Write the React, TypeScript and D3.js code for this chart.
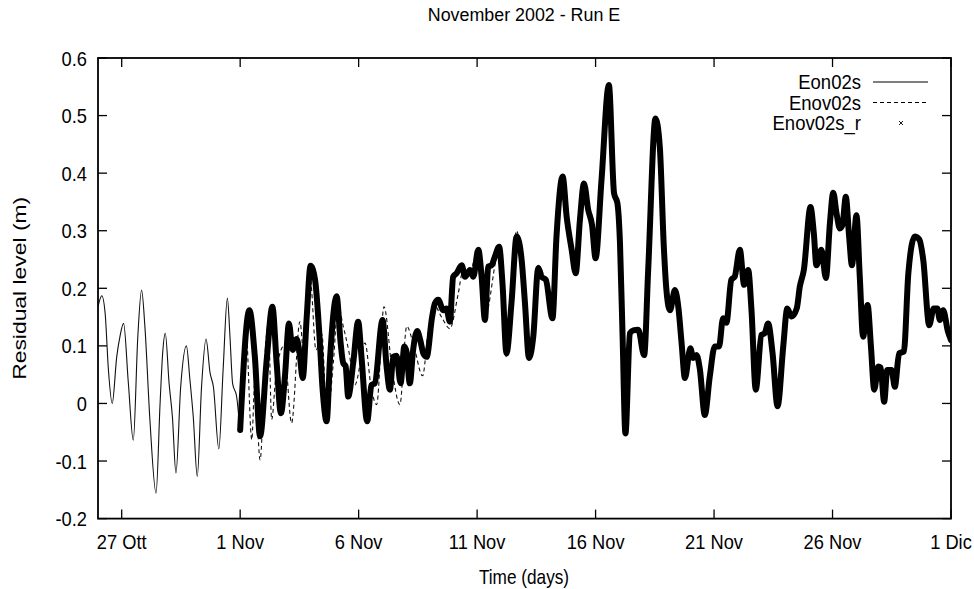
import React, { useEffect } from 'react';
import * as d3 from 'd3';

// time is in days from 26 Oct 2002 00:00, values are metres
const eon02s: [number, number][] = [
  [0.0, 0.168], [0.16, 0.187], [0.3, 0.157], [0.44, 0.058], [0.6, 0.0], [0.79, 0.081], [0.93, 0.117],
  [1.08, 0.139], [1.28, 0.036], [1.49, -0.064], [1.68, 0.116], [1.84, 0.197], [1.98, 0.133], [2.19, -0.028],
  [2.45, -0.156], [2.62, 0.0], [2.73, 0.088], [2.84, 0.122], [3.0, 0.035], [3.14, -0.023], [3.29, -0.121],
  [3.49, 0.029], [3.73, 0.1], [3.88, 0.041], [4.02, -0.023], [4.19, -0.127], [4.37, 0.029], [4.56, 0.112],
  [4.73, 0.053], [4.87, 0.029], [5.1, -0.079], [5.28, 0.058], [5.46, 0.183], [5.57, 0.116], [5.68, 0.035],
  [5.85, 0.012], [5.99, -0.046],
];

const enov02s: [number, number][] = [
  [5.99, 0.0], [6.24, 0.13], [6.49, -0.063], [6.62, 0.04], [6.84, -0.098], [7.09, 0.11], [7.19, 0.14],
  [7.33, -0.028], [7.51, 0.05], [7.85, 0.1], [8.17, -0.034], [8.52, 0.142], [8.73, 0.06], [8.95, 0.22],
  [9.2, 0.093], [9.45, 0.12], [9.66, -0.03], [9.93, 0.07], [10.13, 0.17], [10.35, 0.134], [10.59, 0.09],
  [10.84, 0.032], [11.27, 0.105], [11.52, 0.03], [11.76, -0.002], [12.07, 0.168], [12.41, 0.06],
  [12.74, -0.002], [13.03, 0.134], [13.33, 0.1], [13.7, 0.048], [13.94, 0.128], [14.2, 0.17], [14.5, 0.15],
  [14.85, 0.13], [15.2, 0.19], [15.4, 0.23], [15.7, 0.23], [16.05, 0.27], [16.33, 0.15], [16.93, 0.265],
  [17.24, 0.08], [17.67, 0.3], [18.19, 0.075], [18.58, 0.24], [18.9, 0.21],
];

const enov02sR: [number, number][] = [
  [6.0, -0.046], [6.39, 0.162], [6.62, 0.081], [6.84, -0.057], [7.12, 0.076], [7.36, 0.168], [7.54, 0.07],
  [7.72, -0.017], [7.89, 0.047], [8.06, 0.139], [8.21, 0.093], [8.38, 0.112], [8.5, 0.09], [8.64, 0.044],
  [8.81, 0.151], [8.97, 0.239], [9.16, 0.215], [9.34, 0.122], [9.48, 0.024], [9.65, -0.031], [9.79, 0.076],
  [10.07, 0.186], [10.24, 0.105], [10.35, 0.07], [10.45, 0.065], [10.56, 0.012], [10.77, 0.07], [10.98, 0.142],
  [11.12, 0.081], [11.36, -0.031], [11.54, 0.032], [11.68, 0.035], [12.01, 0.145], [12.18, 0.064],
  [12.32, 0.024], [12.46, 0.081], [12.6, 0.083], [12.77, 0.035], [12.93, 0.099], [13.02, 0.09], [13.16, 0.035],
  [13.3, 0.093], [13.47, 0.126], [13.6, 0.11], [13.73, 0.087], [13.87, 0.081], [14.1, 0.15], [14.22, 0.174],
  [14.36, 0.18], [14.57, 0.162], [14.7, 0.165], [14.85, 0.142], [14.99, 0.22], [15.13, 0.226], [15.35, 0.24],
  [15.49, 0.22], [15.7, 0.232], [15.84, 0.22], [16.05, 0.267], [16.19, 0.22], [16.33, 0.145], [16.47, 0.238],
  [16.61, 0.24], [16.75, 0.255], [16.93, 0.272], [17.07, 0.209], [17.24, 0.087], [17.45, 0.174], [17.67, 0.29],
  [17.88, 0.249], [18.02, 0.174], [18.19, 0.079], [18.37, 0.116], [18.58, 0.235], [18.72, 0.22], [18.9, 0.215],
  [19.18, 0.148], [19.35, 0.29], [19.61, 0.394], [19.78, 0.324], [19.99, 0.267], [20.16, 0.226], [20.34, 0.319],
  [20.51, 0.382], [20.69, 0.336], [20.85, 0.31], [21.0, 0.252], [21.25, 0.388], [21.56, 0.553], [21.78, 0.365],
  [21.92, 0.348], [22.03, 0.278], [22.14, 0.116], [22.26, -0.052], [22.45, 0.122], [22.59, 0.127], [22.8, 0.128],
  [23.05, 0.084], [23.22, 0.232], [23.53, 0.495], [23.71, 0.446], [23.88, 0.272], [23.99, 0.197], [24.14, 0.162],
  [24.35, 0.197], [24.49, 0.168], [24.63, 0.105], [24.77, 0.044], [25.0, 0.096], [25.12, 0.079], [25.26, 0.084],
  [25.4, 0.06], [25.61, -0.02], [25.82, 0.047], [26.03, 0.099], [26.21, 0.099], [26.38, 0.148], [26.52, 0.14],
  [26.73, 0.215], [26.87, 0.22], [27.09, 0.267], [27.27, 0.206], [27.44, 0.232], [27.58, 0.162], [27.76, 0.024],
  [28.0, 0.119], [28.14, 0.122], [28.28, 0.139], [28.47, 0.087], [28.68, -0.005], [28.92, 0.099], [29.09, 0.165],
  [29.27, 0.151], [29.49, 0.165], [29.62, 0.203], [29.79, 0.232], [30.07, 0.341], [30.21, 0.296], [30.32, 0.24],
  [30.53, 0.267], [30.72, 0.218], [30.89, 0.313], [31.03, 0.366], [31.17, 0.33], [31.31, 0.304], [31.42, 0.31],
  [31.56, 0.359], [31.7, 0.29], [31.82, 0.24], [32.01, 0.327], [32.15, 0.22], [32.29, 0.116], [32.48, 0.171],
  [32.62, 0.1], [32.76, 0.024], [32.93, 0.064], [33.03, 0.062], [33.18, 0.003], [33.31, 0.058], [33.49, 0.058],
  [33.63, 0.029], [33.81, 0.087], [34.01, 0.09], [34.2, 0.226], [34.47, 0.29], [34.66, 0.285], [34.83, 0.249],
  [35.08, 0.136], [35.27, 0.165], [35.42, 0.165], [35.53, 0.145], [35.67, 0.162], [35.87, 0.125], [36.0, 0.11],
];

const xTicks = [1, 6, 11, 16, 21, 26, 31, 36];
const xTickLabels = ['27 Ott', '1 Nov', '6 Nov', '11 Nov', '16 Nov', '21 Nov', '26 Nov', '1 Dic'];
const yTicks = [-0.2, -0.1, 0, 0.1, 0.2, 0.3, 0.4, 0.5, 0.6];
const yTickLabels = ['-0.2', '-0.1', '0', '0.1', '0.2', '0.3', '0.4', '0.5', '0.6'];
const legendNames = ['Eon02s', 'Enov02s', 'Enov02s_r'];

const FONT = '"Liberation Sans", Arial, Helvetica, sans-serif';

function T({ x, y, anchor = 'middle', sx = 0.87, size = 21, children }: any) {
  return (
    <text transform={`translate(${x},${y}) scale(${sx},1)`} textAnchor={anchor} fontSize={size}
      fontFamily={FONT} fill="#000">{children}</text>
  );
}

export default function App() {
  useEffect(() => { document.body.style.margin = '0'; }, []);
  const left = 98, right = 951, top = 58, bottom = 518.6;
  const x = d3.scaleLinear().domain([0, 36]).range([left, right]);
  const y = d3.scaleLinear().domain([-0.2, 0.6]).range([bottom, top]);
  const line = d3.line<[number, number]>().x(d => x(d[0])).y(d => y(d[1])).curve(d3.curveMonotoneX);
  const tl = 9;

  return (
    <svg width={974} height={589} style={{ display: 'block', background: '#fff' }}>
      <defs>
        <clipPath id="plot"><rect x={left} y={top} width={right - left} height={bottom - top} /></clipPath>
      </defs>
      <T x={524} y={21} sx={0.94} size={19}>November 2002 - Run E</T>

      {yTicks.map((t, i) => (
        <g key={'y' + i}>
          <line x1={left} x2={left + tl} y1={y(t)} y2={y(t)} stroke="#000" strokeWidth={1.3} />
          <line x1={right} x2={right - tl} y1={y(t)} y2={y(t)} stroke="#000" strokeWidth={1.3} />
          <T x={87} y={y(t) + 7.5} anchor="end">{yTickLabels[i]}</T>
        </g>
      ))}
      {xTicks.map((t, i) => (
        <g key={'x' + i}>
          <line x1={x(t)} x2={x(t)} y1={bottom} y2={bottom - tl} stroke="#000" strokeWidth={1.3} />
          <line x1={x(t)} x2={x(t)} y1={top} y2={top + tl} stroke="#000" strokeWidth={1.3} />
          <T x={x(t)} y={549}>{xTickLabels[i]}</T>
        </g>
      ))}

      <g clipPath="url(#plot)" fill="none" strokeLinejoin="round">
        <path d={line(eon02s) || ''} stroke="#111" strokeWidth={1.1} />
        <path d={line(enov02s) || ''} stroke="#111" strokeWidth={1.1} strokeDasharray="4,3" />
        <path d={line(enov02sR) || ''} stroke="#000" strokeWidth={6} strokeLinecap="round" />
      </g>

      <rect x={left} y={top} width={right - left} height={bottom - top} fill="none" stroke="#000" strokeWidth={1.8} />

      <T x={524} y={584} sx={0.82}>Time (days)</T>
      <text transform={`translate(26,${(top + bottom) / 2}) rotate(-90) scale(1.09,0.85)`} textAnchor="middle"
        fontSize={21} fontFamily={FONT}>Residual level (m)</text>

      {legendNames.map((n, i) => (
        <T key={n} x={861} y={89 + i * 20.5} anchor="end" size={19.5} sx={0.95}>{n}</T>
      ))}
      <line x1={873} x2={928} y1={82} y2={82} stroke="#000" strokeWidth={1.1} />
      <line x1={873} x2={928} y1={102.5} y2={102.5} stroke="#000" strokeWidth={1.1} strokeDasharray="4,3" />
      <path d="M899,121 l4,4 M903,121 l-4,4" stroke="#000" strokeWidth={0.9} />
    </svg>
  );
}
